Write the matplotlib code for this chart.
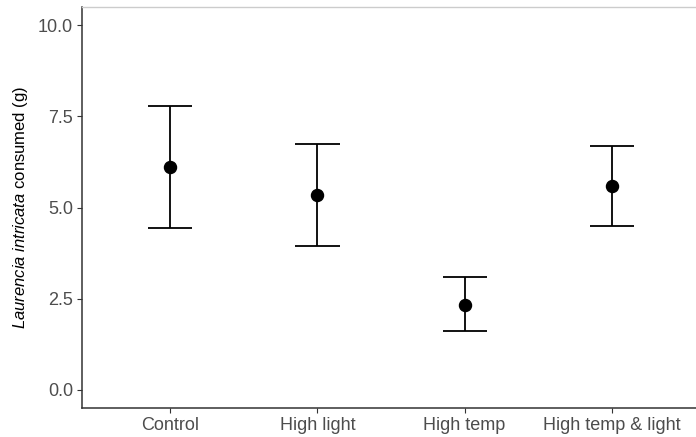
import numpy as np
import matplotlib
matplotlib.use('Agg')
import matplotlib.pyplot as plt

plt.rcParams['font.family'] = ['Liberation Sans', 'DejaVu Sans']
plt.rcParams['mathtext.fontset'] = 'custom'
plt.rcParams['mathtext.rm'] = 'Liberation Sans'
plt.rcParams['mathtext.it'] = 'Liberation Sans:italic'

# treatments and consumption (mean with error range)
treatments = ['Control', 'High light', 'High temp', 'High temp & light']
means = [6.10, 5.34, 2.33, 5.59]
lower = [4.43, 3.95, 1.60, 4.48]
upper = [7.79, 6.74, 3.09, 6.70]
yticks = [0.0, 2.5, 5.0, 7.5, 10.0]

fig = plt.figure(figsize=(6.96, 4.37), dpi=100)
ax = fig.add_axes([82/696, 29/437, 618/696, 401/437])

x = np.arange(len(treatments))
ax.vlines(x, lower, upper, color='black', lw=1.3)
ax.hlines(lower, x - 0.15, x + 0.15, color='black', lw=1.3)
ax.hlines(upper, x - 0.15, x + 0.15, color='black', lw=1.3)
ax.scatter(x, means, s=75, color='black', zorder=3)

ax.set_xlim(-0.6, len(treatments) - 0.4)
ax.set_ylim(-0.5, 10.5)
ax.set_xticks(x)
ax.set_xticklabels(treatments)
ax.set_yticks(yticks)
ax.set_yticklabels(['%.1f' % v for v in yticks])
ax.tick_params(colors='#333333', labelcolor='#4d4d4d', labelsize=13, length=3.5, width=0.8, pad=3)

for side in ['left', 'bottom']:
    ax.spines[side].set_color('#333333')
    ax.spines[side].set_linewidth(1.1)
ax.spines['right'].set_visible(False)
ax.spines['top'].set_color('#cccccc')
ax.spines['top'].set_linewidth(1.0)

ax.set_ylabel(r'$\mathit{Laurencia\ intricata}$ consumed (g)', fontsize=12, color='black', labelpad=6)

fig.savefig('out.png', dpi=100)
